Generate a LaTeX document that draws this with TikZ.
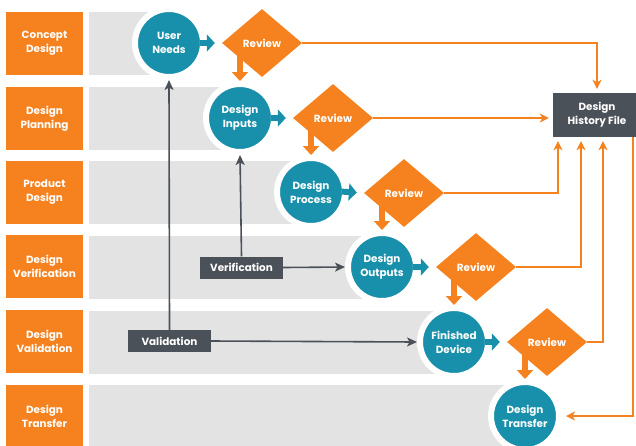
\documentclass[tikz,border=0pt]{standalone}
\usepackage{fontspec}
\setmainfont{Poppins}
\usetikzlibrary{shapes.geometric,arrows.meta}
\definecolor{dhforange}{HTML}{F5821F}
\definecolor{dhfteal}{HTML}{1990AB}
\definecolor{dhfband}{HTML}{E3E3E3}
\definecolor{dhfslate}{HTML}{4B5159}
\tikzset{
  lbl/.style={text=white,font=\bfseries\fontsize{10.4}{14}\selectfont,align=center,inner sep=0pt},
  stage/.style={lbl,fill=dhforange,minimum width=77pt,minimum height=63pt},
  phase/.style={lbl,circle,fill=dhfteal,draw=white,line width=6pt,minimum size=68pt},
  review/.style={lbl,diamond,fill=dhforange,minimum width=80pt,minimum height=68pt},
  tag/.style={lbl,fill=dhfslate,minimum width=83pt,minimum height=22pt},
  feed/.style={dhforange,line width=1.4pt,-{Stealth[length=9pt,width=9pt,inset=2.5pt]},shorten >=4pt},
  check/.style={dhfslate,line width=1.6pt,-{Stealth[length=10pt,width=9pt,inset=2.5pt]}},
  push/.style={dhfteal,line width=6pt,shorten <=-6pt,shorten >=7pt,-{Triangle[length=8pt,width=17pt]}},
  drop/.style={dhforange,line width=6pt,-{Triangle[length=9pt,width=16pt]}}
}
\begin{document}
\begin{tikzpicture}[x=1pt,y=-1pt]
\useasboundingbox(0,0) rectangle (636,445);
%bands behind the rows
\foreach \y/\x in {43/169,118/240,192/311,267/382,342/454,416/525}
  \fill[dhfband](89,\y-31.5) rectangle (\x,\y+31.5);
%stages
\node[stage] (concept) at (44.5,43.5) {Concept\\Design};
\node[stage] (planning) at (44.5,118.5) {Design\\Planning};
\node[stage] (product) at (44.5,192) {Product\\Design};
\node[stage] (verifstage) at (44.5,266.5) {Design\\Verification};
\node[stage] (validstage) at (44.5,341.5) {Design\\Validation};
\node[stage] (transstage) at (44.5,416.5) {Design\\Transfer};
%phases
\node[phase] (needs) at (169,43) {User\\Needs};
\node[phase] (inputs) at (240,118) {Design\\Inputs};
\node[phase] (process) at (311,192) {Design\\Process};
\node[phase] (outputs) at (382,267) {Design\\Outputs};
\node[phase] (device) at (454,342) {Finished\\Device};
\node[phase] (transfer) at (525,416) {Design\\Transfer};
%reviews
\node[review] (rev1) at (262,43) {Review};
\node[review] (rev2) at (333,118) {Review};
\node[review] (rev3) at (404,193) {Review};
\node[review] (rev4) at (476,267) {Review};
\node[review] (rev5) at (547,342) {Review};
%history file and checks
\node[lbl,fill=dhfslate,minimum width=88pt,minimum height=44pt] (dhf) at (597,115) {Design\\History File};
\node[tag] (verif) at (241.5,267.5) {Verification};
\node[tag] (valid) at (169.5,341) {Validation};
%phase into review
\draw[push](needs.east)--(rev1.west);
\draw[push](inputs.east)--(rev2.west);
\draw[push](process.east)--(rev3.west);
\draw[push](outputs.east)--(rev4.west);
\draw[push](device.east)--(rev5.west);
%review into next phase
\draw[drop](rev1.center -| inputs.north)--(inputs.north);
\draw[drop](rev2.center -| process.north)--(process.north);
\draw[drop](rev3.center -| outputs.north)--(outputs.north);
\draw[drop](rev4.center -| device.north)--(device.north);
\draw[drop](rev5.center -| transfer.north)--(transfer.north);
%reviews to the history file
\draw[feed](rev1.east) -| (dhf.north);
\draw[feed](rev2.east)--(rev2.east -| dhf.west);
\draw[feed](rev3.east) -| ([xshift=-39pt]dhf.south);
\draw[feed](rev4.east) -| ([xshift=-16pt]dhf.south);
\draw[feed](rev5.east) -| ([xshift=6pt]dhf.south);
\draw[feed]([xshift=36pt]dhf.south) |- (transfer.east);
%verification and validation
\draw[check](verif.north)--(inputs.south);
\draw[check](verif.east)--(outputs.west);
\draw[check](valid.north)--(needs.south);
\draw[check](valid.east)--(device.west);
\end{tikzpicture}
\end{document}
